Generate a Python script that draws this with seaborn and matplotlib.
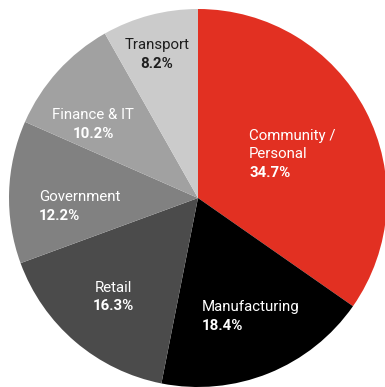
import matplotlib
matplotlib.use("Agg")
import matplotlib.pyplot as plt
import seaborn as sns

sectors = ["Community /\nPersonal", "Manufacturing", "Retail", "Government", "Finance & IT", "Transport"]
shares = [34.7, 18.4, 16.3, 12.2, 10.2, 8.2]
colors = ["#e23022", "#000000", "#4b4b4b", "#818181", "#a1a1a1", "#cbcbcb"]
text_colors = ["white", "white", "white", "white", "white", "#1e1e1e"]

# label anchor in pixels (from top-left) and alignment
label_pos = [(249, 136, "left"), (202, 307, "left"), (113, 288, "center"),
             (39, 197, "left"), (93, 115, "center"), (157, 45, "center")]

sns.set_theme(style="white")
plt.rcParams["font.family"] = ["Roboto", "DejaVu Sans"]

W, H = 385, 387
fig = plt.figure(figsize=(W / 100, H / 100), dpi=100)
ax = fig.add_axes([0, 0, 1, 1])

ax.pie(shares, colors=colors, startangle=90, counterclock=False,
       center=(198, H - 198), radius=189, frame=True,
       wedgeprops=dict(linewidth=0))
ax.set_xlim(0, W)
ax.set_ylim(0, H)
ax.axis("off")

line_h = 18.5
for name, pct, tc, (px, py, ha) in zip(sectors, shares, text_colors, label_pos):
    lines = name.split("\n")
    for i, ln in enumerate(lines):
        ax.text(px, H - (py + i * line_h), ln, color=tc, ha=ha, va="center", fontsize=10.8)
    ax.text(px, H - (py + len(lines) * line_h), f"{pct}%", color=tc, ha=ha,
            va="center", fontsize=10.8, fontweight="bold")

fig.savefig("out.png", dpi=100, facecolor="white")
